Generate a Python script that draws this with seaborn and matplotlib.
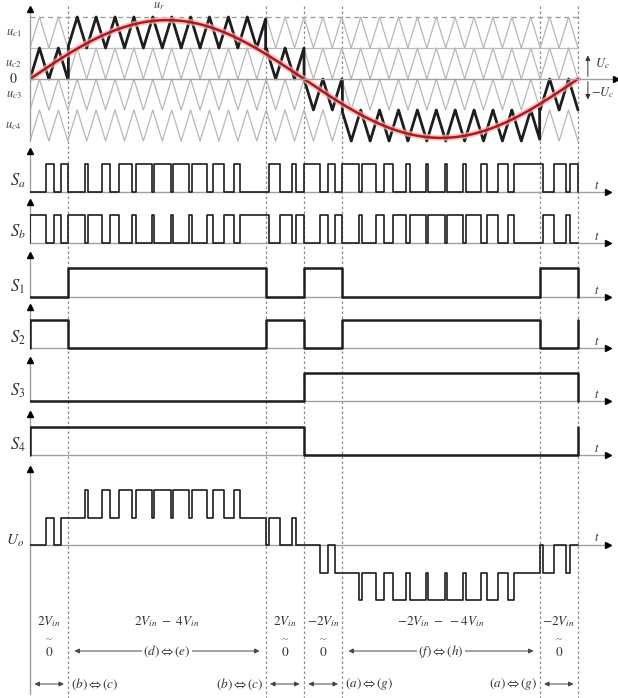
import numpy as np
import matplotlib.pyplot as plt
import seaborn as sns

# modulation parameters
carrier_periods = 29
sine_amp = 1.9
bounds = [0.0, 0.07, 0.43, 0.50, 0.57, 0.93, 1.0]
active_band = [0, 1, 0, -1, -2, -1]      # lower edge of the carrier used in each interval
carrier_lows = [1, 0, -1, -2]
carrier_names = ['$u_{c1}$', '$u_{c2}$', '$u_{c3}$', '$u_{c4}$']

# gate states per interval
s1 = [0, 1, 0, 1, 0, 1]
s2 = [1, 0, 1, 0, 1, 0]
s3 = [0, 0, 0, 1, 1, 1]
s4 = [1, 1, 1, 0, 0, 0]
gates = [s1, s2, s3, s4]
gate_names = ['$S_1$', '$S_2$', '$S_3$', '$S_4$']

# annotation rows under the chart
level_text = ['$2V_{in}$', '$2V_{in}\\ -\\ 4V_{in}$', '$2V_{in}$',
              '$-2V_{in}$', '$-2V_{in}\\ -\\ -4V_{in}$', '$-2V_{in}$']
mode_text = ['$(d)\\Leftrightarrow(e)$', '$(f)\\Leftrightarrow(h)$']
pair_text = ['$(b)\\Leftrightarrow(c)$', '$(b)\\Leftrightarrow(c)$',
             '$(a)\\Leftrightarrow(g)$', '$(a)\\Leftrightarrow(g)$']

sns.set_theme(style='white')
plt.rcParams['font.family'] = ['Liberation Serif', 'DejaVu Serif']
plt.rcParams['mathtext.fontset'] = 'stix'

W, H = 618, 698
X0, XSPAN = 30, 548
XMAX = (W - X0) / XSPAN
AX_C = '#a0a0a0'
INK = '#1e1e1e'

fig = plt.figure(figsize=(W / 100, H / 100), dpi=100)


def add_panel(y_hi, v_hi, y_lo, v_lo, top, bot):
    per_px = (v_hi - v_lo) / (y_lo - y_hi)
    ax = fig.add_axes([X0 / W, 1 - bot / H, (W - X0) / W, (bot - top) / H])
    ax.set_xlim(0, XMAX)
    ax.set_ylim(v_lo - (bot - y_lo) * per_px, v_hi + (y_hi - top) * per_px)
    ax.axis('off')
    return ax


def axes_arrows(ax, ybot, ytip, xend=1.055, yt=0.0):
    ax.plot([0, 0], [ybot, ytip], color=AX_C, lw=1.0, clip_on=False)
    ax.plot(0, ytip, marker='^', color='black', ms=4.5, clip_on=False)
    ax.plot([0, xend], [yt, yt], color=AX_C, lw=1.0, clip_on=False)
    ax.plot(xend, yt, marker='>', color='black', ms=4.5, clip_on=False)


def line(ax, x, y, **kw):
    sns.lineplot(x=x, y=y, ax=ax, estimator=None, sort=False, legend=False, **kw)


def to_steps(t, y, end_val=0):
    idx = np.nonzero(np.diff(y))[0] + 1
    xs = np.concatenate([[t[0], t[0]], np.repeat(t[idx], 2), [t[-1], t[-1]]])
    ys = np.concatenate([[0, y[0]], np.column_stack([y[idx - 1], y[idx]]).ravel(),
                         [y[-1], end_val]])
    return xs, ys


t = np.linspace(0, 1, 60001)
sector = np.clip(np.searchsorted(bounds, t, side='right') - 1, 0, 5)
tri = 1 - 2 * np.abs((carrier_periods * t) % 1 - 0.5)
ref = sine_amp * np.sin(2 * np.pi * t)
low = np.array(active_band)[sector]
d = (ref > low + tri).astype(int)
u_out = low + d

# overlay: sector boundaries and bottom notes
ov = fig.add_axes([X0 / W, 0, (W - X0) / W, 1])
ov.set_xlim(0, XMAX)
ov.set_ylim(H, 0)
ov.axis('off')
ov.vlines(bounds[1:], 6, H, colors='#8a8a8a', lw=0.9, linestyles=(0, (2, 2)))

centers = [(bounds[i] + bounds[i + 1]) / 2 for i in range(6)]
for c, s in zip(centers, level_text):
    ov.text(c, 622, s, ha='center', va='center', fontsize=9.5, color='#333')
for i in [0, 2, 3, 5]:
    ov.text(centers[i], 640, '~', ha='center', va='center', fontsize=8, color='#555')
    ov.text(centers[i], 652, '$0$', ha='center', va='center', fontsize=9.5, color='#333')
for (a, b), s in zip([(1, 2), (4, 5)], mode_text):
    ov.annotate('', xy=(bounds[b] - 0.006, 651), xytext=(bounds[a] + 0.006, 651),
                arrowprops=dict(arrowstyle='<|-|>', color='#444', lw=0.7, mutation_scale=7))
    ov.text((bounds[a] + bounds[b]) / 2, 651, s, ha='center', va='center', fontsize=9.5,
            color='#333', bbox=dict(fc='white', ec='none', pad=1))
for i in [0, 2, 3, 5]:
    ov.annotate('', xy=(bounds[i + 1] - 0.003, 684), xytext=(bounds[i] + 0.003, 684),
                arrowprops=dict(arrowstyle='<|-|>', color='#444', lw=0.7, mutation_scale=7))
ov.text(bounds[1] + 0.004, 684, pair_text[0], ha='left', va='center', fontsize=9.5, color='#333')
ov.text(bounds[2] - 0.004, 684, pair_text[1], ha='right', va='center', fontsize=9.5, color='#333')
ov.text(bounds[4] + 0.004, 684, pair_text[2], ha='left', va='center', fontsize=9.5, color='#333')
ov.text(bounds[5] - 0.004, 684, pair_text[3], ha='right', va='center', fontsize=9.5, color='#333')
ov.text(0.235, 6, '$u_r$', ha='center', va='center', fontsize=9, color='#444')

# top panel: carriers, active carrier, reference
ax = add_panel(17, 2, 141, -2, 2, 146)
ax.plot([0, 1.0], [2, 2], color='#999', lw=0.9, ls=(0, (4, 3)))
ax.plot([0, 1.0], [1, 1], color='#bbb', lw=0.9)
for lo in carrier_lows:
    line(ax, t, lo + tri, color='#b8b8b8', linewidth=0.9)
line(ax, t, low + tri, color=INK, linewidth=2.0)
line(ax, t, ref, color='#f2b4b4', linewidth=4.5, alpha=0.7)
line(ax, t, ref, color='#b3161b', linewidth=1.8)
axes_arrows(ax, -2.0, 2.25, xend=1.07)
for lo, name in zip(carrier_lows, carrier_names):
    ax.text(-0.03, lo + 0.5, name, ha='center', va='center', fontsize=9, color='#444')
ax.text(-0.03, 0, '$0$', ha='center', va='center', fontsize=10, color='#333')
ax.annotate('', xy=(1.018, 0.85), xytext=(1.018, 0), arrowprops=dict(arrowstyle='-|>', color='#333', lw=0.7, mutation_scale=7))
ax.annotate('', xy=(1.018, -0.75), xytext=(1.018, 0), arrowprops=dict(arrowstyle='-|>', color='#333', lw=0.7, mutation_scale=7))
ax.text(1.045, 0.5, '$U_c$', ha='center', va='center', fontsize=9, color='#333')
ax.text(1.045, -0.45, '$-U_c$', ha='center', va='center', fontsize=9, color='#333')

# PWM signals
for (hi, lo_px, top, bot), sig, name in zip([(164, 192, 148, 196), (215, 243, 200, 247)],
                                            [d, 1 - d], ['$S_a$', '$S_b$']):
    ax = add_panel(hi, 1, lo_px, 0, top, bot)
    axes_arrows(ax, 0, 1.45)
    xs, ys = to_steps(t, sig)
    line(ax, xs, ys, color=INK, linewidth=1.2)
    ax.text(-0.022, 0.4, name, ha='center', va='center', fontsize=12, color='#333')
    ax.text(1.035, 0.2, '$t$', ha='center', va='center', fontsize=9, color='#333')

# gate signals
for (hi, lo_px, top, bot), st, name in zip([(268, 297, 252, 300), (320, 348, 305, 352),
                                            (373, 401, 357, 405), (427, 455, 411, 459)],
                                           gates, gate_names):
    ax = add_panel(hi, 1, lo_px, 0, top, bot)
    axes_arrows(ax, 0, 1.45)
    xs, ys = [0], [0]
    for i, v in enumerate(st):
        xs += [bounds[i], bounds[i + 1]]
        ys += [v, v]
    xs.append(1.0)
    ys.append(st[0])
    line(ax, xs, ys, color=INK, linewidth=1.8)
    ax.text(-0.022, 0.35, name, ha='center', va='center', fontsize=12, color='#333')
    ax.text(1.035, 0.2, '$t$', ha='center', va='center', fontsize=9, color='#333')

# output voltage
ax = add_panel(490, 2, 600, -2, 465, H)
ax.plot([0, 0], [-2, -5.4], color=AX_C, lw=1.0, clip_on=False)
axes_arrows(ax, -2, 2.75)
xs, ys = to_steps(t, u_out)
line(ax, xs, ys, color=INK, linewidth=1.2)
ax.text(-0.028, 0.15, '$U_o$', ha='center', va='center', fontsize=11, color='#333')
ax.text(1.035, 0.25, '$t$', ha='center', va='center', fontsize=9, color='#333')

fig.savefig('out.png', dpi=100, facecolor='white')
